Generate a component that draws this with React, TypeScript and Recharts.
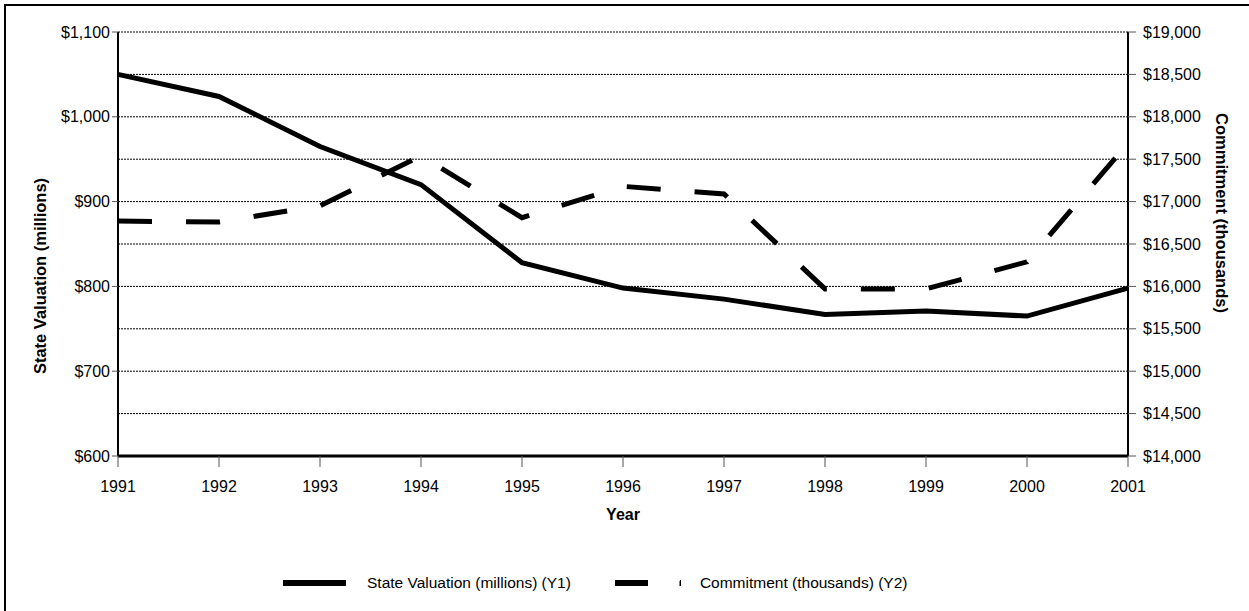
import React from 'react';
import { LineChart, Line, XAxis, YAxis, CartesianGrid } from 'recharts';

const years = [1991, 1992, 1993, 1994, 1995, 1996, 1997, 1998, 1999, 2000, 2001];
const valuation = [1050, 1024, 965, 920, 828, 798, 785, 767, 771, 765, 798];
const commitment = [16770, 16760, 16950, 17540, 16810, 17180, 17090, 15970, 15970, 16290, 17690];

const leftTicks = [600, 700, 800, 900, 1000, 1100];
const rightTicks = [14000, 14500, 15000, 15500, 16000, 16500, 17000, 17500, 18000, 18500, 19000];

const data = years.map((year, i) => ({
  year,
  valuation: valuation[i],
  commitment: commitment[i],
}));

const FONT = '"Liberation Sans", Arial, sans-serif';
const money = (v: number) => `$${v.toLocaleString('en-US')}`;
const tickStyle = { fontSize: 16, fill: '#000', fontFamily: FONT };

export default function App() {
  return (
    <div style={{ position: 'absolute', left: 0, top: 0, width: 1249, height: 611, overflow: 'hidden', background: '#fff', fontFamily: FONT }}>
      {/* outer frame, runs off the right and bottom edge */}
      <div style={{ position: 'absolute', left: 4, top: 4, width: 1400, height: 800, border: '2px solid #000' }} />

      <div style={{ position: 'absolute', left: 0, top: 0 }}>
        <LineChart width={1249} height={611} data={data} margin={{ top: 32, right: 0, left: 0, bottom: 0 }}>
          <CartesianGrid yAxisId="right" vertical={false} stroke="#000" strokeDasharray="2 1" strokeWidth={1} />
          <XAxis
            dataKey="year"
            type="number"
            domain={[1991, 2001]}
            ticks={years}
            height={155}
            tick={tickStyle}
            tickSize={11}
            tickMargin={14}
            tickLine={{ stroke: '#555' }}
            axisLine={{ stroke: '#000', strokeWidth: 3 }}
            label={{
              content: ({ viewBox }: any) => (
                <text x={viewBox.x + viewBox.width / 2} y={520} textAnchor="middle" fontSize={16} fontWeight="bold" fontFamily={FONT} fill="#000">
                  Year
                </text>
              ),
            }}
          />
          <YAxis
            yAxisId="left"
            domain={[600, 1100]}
            ticks={leftTicks}
            width={118}
            tick={tickStyle}
            tickSize={6}
            tickMargin={2}
            tickLine={{ stroke: '#555' }}
            axisLine={{ stroke: '#000', strokeWidth: 2 }}
            tickFormatter={money}
            label={{
              content: () => (
                <text x={46} y={276} transform="rotate(-90 46 276)" textAnchor="middle" fontSize={16.5} fontWeight="bold" fontFamily={FONT} fill="#000">
                  State Valuation (millions)
                </text>
              ),
            }}
          />
          <YAxis
            yAxisId="right"
            orientation="right"
            domain={[14000, 19000]}
            ticks={rightTicks}
            width={121}
            tick={tickStyle}
            tickSize={8}
            tickMargin={7}
            tickLine={{ stroke: '#555' }}
            axisLine={{ stroke: '#000', strokeWidth: 2 }}
            tickFormatter={money}
            label={{
              content: () => (
                <text x={1216} y={213} transform="rotate(90 1216 213)" textAnchor="middle" fontSize={16.5} fontWeight="bold" fontFamily={FONT} fill="#000">
                  Commitment (thousands)
                </text>
              ),
            }}
          />
          <Line yAxisId="left" type="linear" dataKey="valuation" stroke="#000" strokeWidth={5} dot={false} isAnimationActive={false} />
          <Line yAxisId="right" type="linear" dataKey="commitment" stroke="#000" strokeWidth={5} strokeDasharray="34 34" dot={false} isAnimationActive={false} />
        </LineChart>
      </div>

      {/* legend */}
      <div style={{ position: 'absolute', left: 283, top: 571, height: 24, display: 'flex', alignItems: 'center', fontSize: 15.5, color: '#000' }}>
        <svg width={63} height={10} style={{ display: 'block' }}>
          <line x1={0} y1={5} x2={63} y2={5} stroke="#000" strokeWidth={6} />
        </svg>
        <span style={{ marginLeft: 21 }}>State Valuation (millions) (Y1)</span>
        <svg width={66} height={10} style={{ display: 'block', marginLeft: 44 }}>
          <line x1={0} y1={5} x2={66} y2={5} stroke="#000" strokeWidth={6} strokeDasharray="33 32" />
          <line x1={65} y1={3} x2={65} y2={8} stroke="#000" strokeWidth={1} />
        </svg>
        <span style={{ marginLeft: 19 }}>Commitment (thousands) (Y2)</span>
      </div>
    </div>
  );
}
